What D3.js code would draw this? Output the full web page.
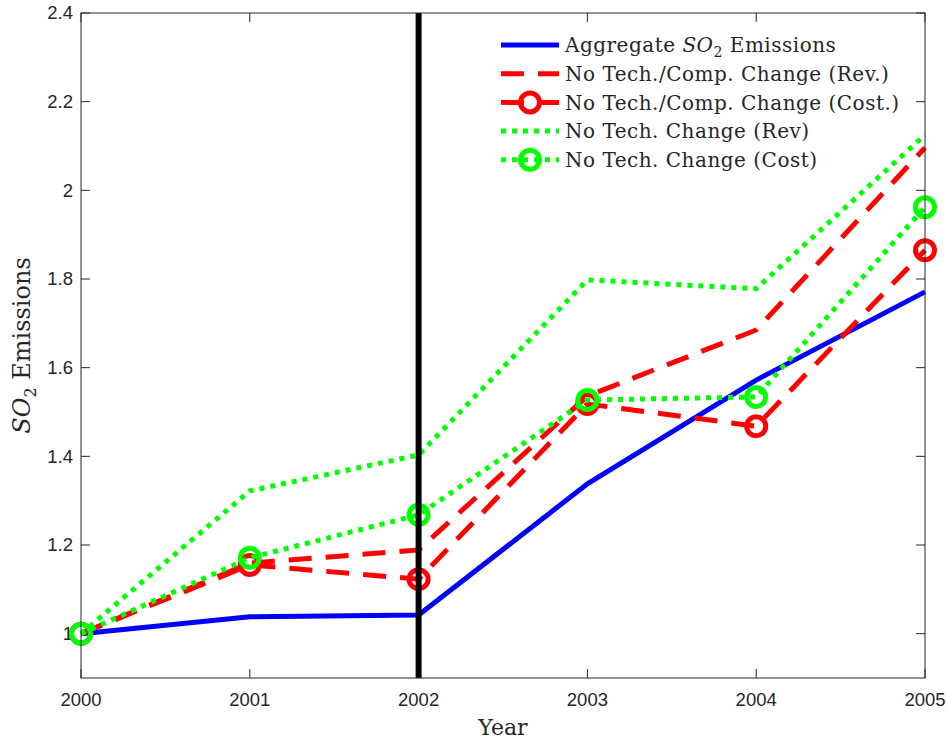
<!DOCTYPE html>
<html>
<head>
<meta charset="utf-8">
<script src="https://cdn.jsdelivr.net/npm/d3@7"></script>
<style>
body { margin:0; background:#fff; }
text { fill:#262626; }
</style>
</head>
<body>
<svg id="graph"></svg>
<script>
// data
var years = [2000, 2001, 2002, 2003, 2004, 2005];
var aggregate = [1.0, 1.038, 1.042, 1.338, 1.572, 1.771];
var noTechCompRev = [1.0, 1.159, 1.189, 1.536, 1.685, 2.096];
var noTechCompCost = [1.0, 1.155, 1.123, 1.518, 1.468, 1.865];
var noTechRev = [1.0, 1.322, 1.403, 1.798, 1.778, 2.125];
var noTechCost = [1.0, 1.171, 1.268, 1.527, 1.534, 1.962];
var yTicks = [1, 1.2, 1.4, 1.6, 1.8, 2, 2.2, 2.4];
var cutYear = 2002;

width = 946;
height = 740;
margin = {left:81, right:21, top:13, bottom:62};

svg = d3.select("#graph")
    .attr("width", width)
    .attr("height", height);

x = d3.scaleLinear()
    .domain([2000, 2005])
    .range([margin.left, width - margin.right]);
y = d3.scaleLinear()
    .domain([0.9, 2.4])
    .range([height - margin.bottom, margin.top]);

axisStyle = "stroke:#262626; stroke-width:1;";
tickFont = "font: 18.5px 'Liberation Sans', Arial, sans-serif";
serif = "'DejaVu Serif', serif";

// ticks (inside, on all four sides)
tk = 9;
g = svg.append("g");
years.forEach(function(d) {
    g.append("line").attr("x1", x(d)).attr("x2", x(d))
        .attr("y1", y.range()[0]).attr("y2", y.range()[0] - tk).attr("style", axisStyle);
    g.append("line").attr("x1", x(d)).attr("x2", x(d))
        .attr("y1", y.range()[1]).attr("y2", y.range()[1] + tk).attr("style", axisStyle);
    g.append("text").attr("x", x(d)).attr("y", y.range()[0] + 28)
        .attr("text-anchor", "middle")
        .attr("style", tickFont)
        .text(d);
});
yTicks.forEach(function(d) {
    g.append("line").attr("x1", x.range()[0]).attr("x2", x.range()[0] + tk)
        .attr("y1", y(d)).attr("y2", y(d)).attr("style", axisStyle);
    g.append("line").attr("x1", x.range()[1]).attr("x2", x.range()[1] - tk)
        .attr("y1", y(d)).attr("y2", y(d)).attr("style", axisStyle);
    g.append("text").attr("x", x.range()[0] - 8).attr("y", y(d)).attr("dy", ".35em")
        .attr("text-anchor", "end")
        .attr("style", tickFont)
        .text(d3.format("")(d));
});

// series
series = [
    {name: "aggregate", values: aggregate, color: "#0000ff", dash: null, marker: false},
    {name: "noTechCompRev", values: noTechCompRev, color: "#ff0000", dash: "23,14", marker: false},
    {name: "noTechCompCost", values: noTechCompCost, color: "#ff0000", dash: "23,14", marker: true},
    {name: "noTechRev", values: noTechRev, color: "#00ff00", dash: "5,6", marker: false},
    {name: "noTechCost", values: noTechCost, color: "#00ff00", dash: "5,6", marker: true}
];
labels = [
    ["Aggregate ", "SO", "2", " Emissions"],
    ["No Tech./Comp. Change (Rev.)"],
    ["No Tech./Comp. Change (Cost.)"],
    ["No Tech. Change (Rev)"],
    ["No Tech. Change (Cost)"]
];

line = d3.line()
    .x(function(d, i) { return x(years[i]); })
    .y(function(d) { return y(d); });

lw = 5;
series.forEach(function(s) {
    svg.append("path").datum(s.values)
        .attr("d", line)
        .attr("fill", "none")
        .attr("stroke", s.color)
        .attr("stroke-width", lw)
        .attr("stroke-dasharray", s.dash);
    if (s.marker) {
        svg.append("g").selectAll("circle")
            .data(s.values).enter().append("circle")
            .attr("cx", function(d, i) { return x(years[i]); })
            .attr("cy", function(d) { return y(d); })
            .attr("r", 9.5)
            .attr("fill", "none")
            .attr("stroke", s.color)
            .attr("stroke-width", lw);
    }
});

// vertical line at 2002
svg.append("line")
    .attr("x1", x(cutYear)).attr("x2", x(cutYear))
    .attr("y1", y.range()[0]).attr("y2", y.range()[1])
    .attr("stroke", "#000").attr("stroke-width", 6);

// box
svg.append("rect")
    .attr("x", x.range()[0]).attr("y", y.range()[1])
    .attr("width", x.range()[1] - x.range()[0])
    .attr("height", y.range()[0] - y.range()[1])
    .attr("fill", "none").attr("style", axisStyle);

// legend
legend = svg.append("g");
series.forEach(function(s, i) {
    ly = 45 + i * 28.7;
    legend.append("line")
        .attr("x1", 501).attr("x2", 559).attr("y1", ly).attr("y2", ly)
        .attr("stroke", s.color).attr("stroke-width", lw)
        .attr("stroke-dasharray", s.dash);
    if (s.marker) {
        legend.append("circle").attr("cx", 530).attr("cy", ly).attr("r", 9.5)
            .attr("fill", "none").attr("stroke", s.color).attr("stroke-width", lw);
    }
    t = legend.append("text").attr("x", 565).attr("y", ly).attr("dy", ".36em")
        .attr("letter-spacing", "0.5px")
        .attr("style", "font: 20px " + serif);
    lb = labels[i];
    if (lb.length > 1) {
        t.append("tspan").text(lb[0]);
        t.append("tspan").attr("font-style", "italic").text(lb[1]);
        t.append("tspan").attr("font-size", "14px").attr("dy", "5").text(lb[2]);
        t.append("tspan").attr("dy", "-5").text(lb[3]);
    } else {
        t.text(lb[0]);
    }
});

// axis labels
svg.append("text")
    .attr("x", (x.range()[0] + x.range()[1]) / 2).attr("y", 735)
    .attr("text-anchor", "middle")
    .attr("style", "font: 22px " + serif)
    .text("Year");

yl = svg.append("text")
    .attr("transform", "translate(30," + ((y.range()[0] + y.range()[1]) / 2) + ") rotate(-90)")
    .attr("text-anchor", "middle")
    .attr("style", "font: 24px " + serif);
yl.append("tspan").attr("font-style", "italic").text("SO");
yl.append("tspan").attr("font-size", "16px").attr("dy", "6").text("2");
yl.append("tspan").attr("dy", "-6").text(" Emissions");
</script>
</body>
</html>
